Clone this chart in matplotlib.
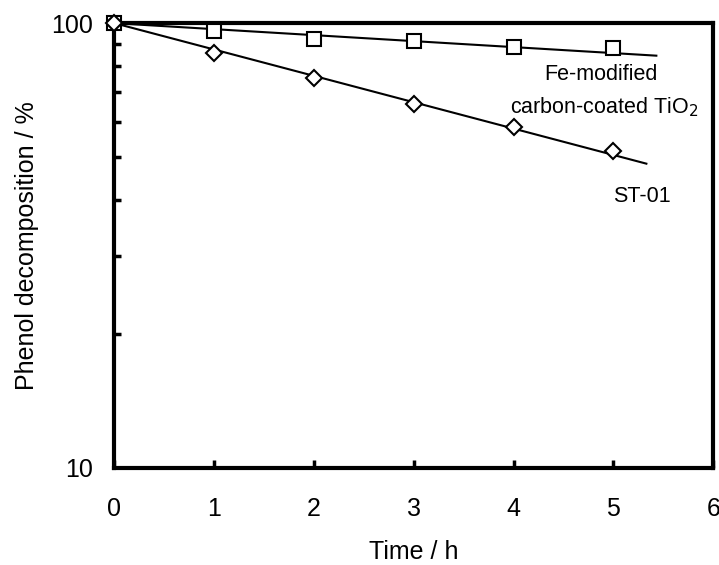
import matplotlib
matplotlib.use("Agg")
import matplotlib.pyplot as plt
import numpy as np
from matplotlib.ticker import FixedLocator, NullFormatter

plt.rcParams['font.family'] = ['Liberation Sans', 'DejaVu Sans']

# measured data
time_h = [0, 1, 2, 3, 4, 5]
fe_tio2 = [100, 95.8, 92.1, 91.1, 88.4, 87.8]
st01 = [100, 85.5, 75.2, 65.9, 58.4, 51.5]

# first-order fit lines (rate constant 1/h, end of drawn line in h)
k_fe, end_fe = 0.031, 5.43
k_st, end_st = 0.1365, 5.33

fig = plt.figure(figsize=(7.19, 5.65), dpi=100)
ax = fig.add_axes([0.159, 0.172, 0.833, 0.787])

t = np.array([0, end_fe])
ax.plot(t, 100 * np.exp(-k_fe * t), color='black', lw=1.5)
t = np.array([0, end_st])
ax.plot(t, 100 * np.exp(-k_st * t), color='black', lw=1.5)

ax.plot(time_h, fe_tio2, linestyle='none', marker='s', ms=9.5, mfc='white',
        mec='black', mew=1.5, clip_on=False, zorder=3)
ax.plot(time_h, st01, linestyle='none', marker='D', ms=8.5, mfc='white',
        mec='black', mew=1.5, clip_on=False, zorder=3)

ax.set_yscale('log')
ax.set_xlim(0, 6)
ax.set_ylim(10, 100)

ax.set_xticks([0, 1, 2, 3, 4, 5, 6])
ax.yaxis.set_major_locator(FixedLocator([10, 100]))
ax.set_yticklabels(['10', '100'])
ax.yaxis.set_minor_locator(FixedLocator([20, 30, 40, 50, 60, 70, 80, 90]))
ax.yaxis.set_minor_formatter(NullFormatter())

ax.tick_params(axis='x', direction='in', length=6, width=2.5, labelsize=18, pad=21)
ax.tick_params(axis='y', which='major', direction='in', length=0, labelsize=18, pad=15)
ax.tick_params(axis='y', which='minor', direction='in', length=5, width=2.5)
for s in ax.spines.values():
    s.set_linewidth(3)

ax.set_xlabel('Time / h', fontsize=18, labelpad=14)
ax.set_ylabel('Phenol decomposition / %', fontsize=18, labelpad=9)

ax.text(4.87, 74.5, 'Fe-modified', fontsize=15.5, ha='center', va='baseline')
ax.text(4.905, 62.8, 'carbon-coated TiO$_2$', fontsize=15.5, ha='center', va='baseline')
ax.text(5.285, 39.6, 'ST-01', fontsize=15.5, ha='center', va='baseline')

fig.savefig('out.png', dpi=100)
